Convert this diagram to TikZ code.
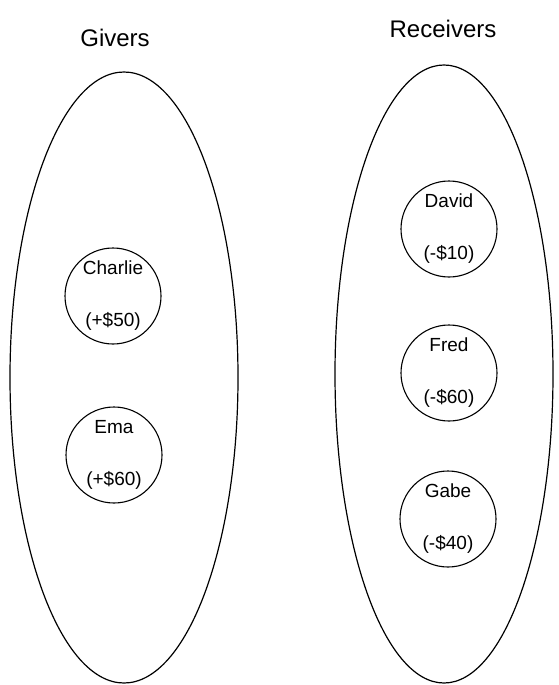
\documentclass[tikz,border=0pt]{standalone}
\usepackage{fontspec}
\setmainfont{Liberation Sans}
\usetikzlibrary{shapes.geometric}
\begin{document}
\begin{tikzpicture}[x=1pt,y=-1pt,
  group/.style={draw, line width=1.2pt, ellipse, inner sep=0pt},
  person/.style={draw, line width=1.1pt, circle, minimum size=96pt, inner sep=0pt,
    align=center, font=\fontsize{19}{52}\selectfont},
  title/.style={font=\fontsize{24}{28}\selectfont, inner sep=0pt}]
\useasboundingbox (0,0) rectangle (558,685);
\node[group, minimum width=228pt, minimum height=611pt] (givers) at (124,377.5) {};
\node[group, minimum width=218pt, minimum height=618pt] (receivers) at (444,374) {};
\node[title] (gt) at (115,38) {Givers};
\node[title] (rt) at (443,29) {Receivers};
\node[person] (charlie) at (113,296) {Charlie\\(+\$50)};
\node[person] (ema) at (114,455) {Ema\\(+\$60)};
\node[person] (david) at (449,229) {David\\(-\$10)};
\node[person] (fred) at (449,373) {Fred\\(-\$60)};
\node[person] (gabe) at (448,519) {Gabe\\(-\$40)};
\end{tikzpicture}
\end{document}
